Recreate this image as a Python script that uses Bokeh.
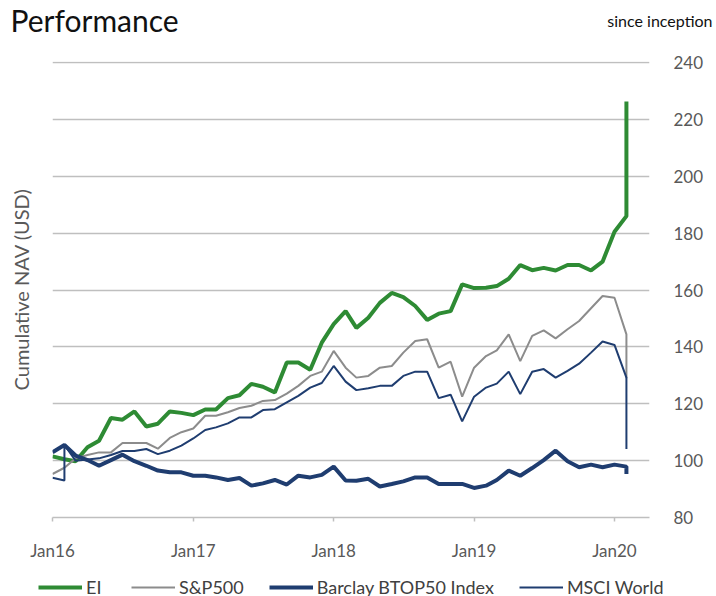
import pandas as pd
from bokeh.plotting import figure
from bokeh.models import (LinearAxis, FixedTicker, DatetimeTickFormatter, Label,
                          Legend, LegendItem, ColumnDataSource, Range1d)
from bokeh.embed import file_html
from bokeh.resources import INLINE

# ---------------- data ----------------
months = ["2016-01", "2016-02", "2016-02", "2016-03", "2016-04", "2016-05", "2016-06", "2016-07",
          "2016-08", "2016-09", "2016-10", "2016-11", "2016-12",
          "2017-01", "2017-02", "2017-03", "2017-04", "2017-05", "2017-06", "2017-07", "2017-08",
          "2017-09", "2017-10", "2017-11", "2017-12",
          "2018-01", "2018-02", "2018-03", "2018-04", "2018-05", "2018-06", "2018-07", "2018-08",
          "2018-09", "2018-10", "2018-11", "2018-12",
          "2019-01", "2019-02", "2019-03", "2019-04", "2019-05", "2019-06", "2019-07", "2019-08",
          "2019-09", "2019-10", "2019-11", "2019-12",
          "2020-01", "2020-02", "2020-02"]

ei = [101.5, 100.5, 100.5, 99.8, 104.7, 107.0, 115.0, 114.4, 117.3, 112.0, 113.0, 117.3, 116.8,
      116.0, 118.0, 118.0, 122.0, 123.0, 127.0, 126.0, 124.0, 134.5, 134.5, 132.0, 141.5,
      148.0, 152.6, 146.7, 150.3, 155.5, 159.0, 157.5, 154.4, 149.5, 151.7, 152.6, 162.0,
      160.7, 160.8, 161.4, 164.0, 168.8, 167.0, 167.8, 166.9, 168.8, 168.8, 166.9, 170.0,
      180.5, 186.0, 226.3]

sp500 = [95.3, 97.5, 97.5, 100.8, 102.0, 102.9, 102.9, 106.2, 106.2, 106.2, 104.2, 108.0, 110.0,
         111.3, 115.8, 115.8, 117.0, 118.5, 119.3, 121.0, 121.3, 123.6, 126.3, 129.8, 131.3,
         138.6, 132.7, 129.2, 129.8, 132.7, 133.3, 138.0, 142.1, 142.7, 132.7, 134.8, 122.5,
         132.7, 136.8, 138.8, 144.4, 135.0, 143.9, 145.8, 143.0, 146.2, 149.1, 153.6, 157.9,
         157.3, 144.4, 129.0]

barclay = [102.9, 105.5, 105.5, 101.8, 100.2, 98.2, 100.2, 102.1, 99.8, 98.2, 96.5, 95.9, 95.9,
           94.7, 94.7, 94.1, 93.2, 93.9, 91.2, 92.0, 93.2, 91.6, 94.7, 94.1, 95.0,
           97.9, 93.0, 92.9, 93.6, 90.9, 91.8, 92.7, 94.1, 94.1, 91.8, 91.8, 91.8,
           90.4, 91.2, 93.2, 96.5, 94.7, 97.4, 100.2, 103.5, 99.8, 97.7, 98.6, 97.7,
           98.6, 97.9, 95.3]

msci = [94.0, 93.0, 105.5, 100.0, 100.4, 100.8, 102.0, 103.4, 103.4, 104.1, 102.3, 103.5, 105.3,
        107.8, 110.8, 111.7, 113.1, 115.2, 115.2, 117.8, 118.1, 120.5, 122.8, 125.7, 127.3,
        133.3, 127.8, 124.8, 125.5, 126.3, 126.3, 129.8, 131.3, 131.3, 122.0, 123.2, 113.8,
        122.5, 125.7, 127.1, 131.3, 123.4, 131.3, 132.2, 129.2, 131.6, 134.1, 138.0, 141.9,
        140.7, 129.2, 104.1]

series_names = ["EI", "S&P500", "Barclay BTOP50 Index", "MSCI World"]
y_ticks = [80, 100, 120, 140, 160, 180, 200, 220, 240]
x_tick_dates = ["2016-01-01", "2017-01-01", "2018-01-01", "2019-01-01", "2020-01-01"]
title_text = "Performance"
subtitle_text = "since inception"
y_label = "Cumulative NAV (USD)"

# ---------------- styles ----------------
FONT = "Lato"
GREEN = "#2E8B34"
GRAY = "#8C8C8C"
NAVY = "#1F3D70"
W = 716
HEAD_H = 40
FOOT_H = 36

X0 = pd.Timestamp("2016-01-01")
X1 = pd.Timestamp("2020-04-01")

# ---------------- header (title texts), separate root ----------------
head = figure(width=W, height=HEAD_H, x_range=Range1d(0, W), y_range=Range1d(HEAD_H, 0),
              x_axis_location=None, y_axis_location=None, min_border=0,
              output_backend="svg", toolbar_location=None)
head.grid.visible = False
head.outline_line_color = None
head.add_layout(Label(x=10, y=19, text=title_text, text_font=FONT, text_font_size="30px",
                      text_color="#111111", text_baseline="alphabetic", text_align="left"))
head.add_layout(Label(x=712, y=20, text=subtitle_text, text_font=FONT, text_font_size="16px",
                      text_color="#111111", text_baseline="alphabetic", text_align="right"))

# ---------------- main chart ----------------
dates = pd.to_datetime([m + "-01" for m in months])
src = ColumnDataSource(dict(date=dates, ei=ei, sp=sp500, bar=barclay, msci=msci))

p = figure(frame_width=597, frame_height=456, x_axis_type="datetime",
           x_range=Range1d(X0, X1), y_range=Range1d(80, 240.4), y_axis_location="right",
           output_backend="svg", toolbar_location=None,
           min_border_left=52, min_border_right=67, min_border_top=21, min_border_bottom=43)
p.outline_line_color = None

p.xgrid.grid_line_color = None
p.ygrid.grid_line_color = "#BFBFBF"
p.ygrid.grid_line_width = 1.5
p.ygrid.ticker = FixedTicker(ticks=y_ticks)

ya = p.yaxis[0]
ya.ticker = FixedTicker(ticks=y_ticks)
ya.axis_line_color = None
ya.major_tick_line_color = None
ya.minor_tick_line_color = None
ya.major_label_standoff = 18
ya.major_label_text_font = FONT
ya.major_label_text_font_size = "17px"
ya.major_label_text_color = "#595959"

la = LinearAxis(ticker=FixedTicker(ticks=[]), axis_label=y_label,
                axis_line_color=None, major_tick_line_color=None, minor_tick_line_color=None,
                major_tick_out=0, major_label_standoff=0)
la.axis_label_text_font = FONT
la.axis_label_text_font_size = "20px"
la.axis_label_text_font_style = "normal"
la.axis_label_text_color = "#595959"
la.axis_label_standoff = 20
p.add_layout(la, "left")

xa = p.xaxis[0]
xa.ticker = FixedTicker(ticks=[pd.Timestamp(d).value // 10**6 for d in x_tick_dates])
xa.formatter = DatetimeTickFormatter(years="%b%y", months="%b%y", days="%b%y",
                                     hours="%b%y", minutes="%b%y", seconds="%b%y",
                                     milliseconds="%b%y", microseconds="%b%y")
xa.axis_line_color = "#BFBFBF"
xa.axis_line_width = 1.5
xa.major_tick_line_color = "#BFBFBF"
xa.major_tick_line_width = 1.5
xa.major_tick_in = 0
xa.major_tick_out = 4
xa.minor_tick_line_color = None
xa.major_label_standoff = 18
xa.major_label_text_font = FONT
xa.major_label_text_font_size = "17px"
xa.major_label_text_color = "#595959"

cols = ["ei", "sp", "bar", "msci"]
styles = [dict(line_color=GREEN, line_width=4), dict(line_color=GRAY, line_width=2),
          dict(line_color=NAVY, line_width=4), dict(line_color=NAVY, line_width=2)]
for col, st in zip(cols, styles):
    p.line("date", col, source=src, **st)

# ---------------- footer (legend), separate root ----------------
# legend keys reuse the same data; it lies outside this strip's ranges, so only the keys show
foot = figure(width=W, height=FOOT_H, x_range=Range1d(0, 1), y_range=Range1d(0, 1),
              x_axis_location=None, y_axis_location=None, min_border=0,
              output_backend="svg", toolbar_location=None)
foot.grid.visible = False
foot.outline_line_color = None
key_renderers = [foot.line("date", col, source=src, **st) for col, st in zip(cols, styles)]
legend = Legend(items=[LegendItem(label=n, renderers=[r]) for n, r in
                       zip(series_names, key_renderers)],
                orientation="horizontal", location=(38, 1),
                label_text_font=FONT, label_text_font_size="18px", label_text_color="#404040",
                glyph_width=44, glyph_height=18, label_standoff=4, spacing=25,
                border_line_color=None, background_fill_alpha=0, padding=0, margin=0)
foot.add_layout(legend, "center")

open("out.html", "w").write(file_html([head, p, foot], INLINE))
